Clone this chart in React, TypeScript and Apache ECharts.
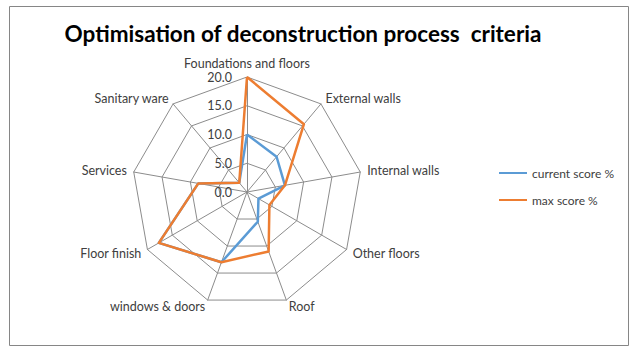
import React, { useEffect, useRef } from "react";
import * as echarts from "echarts";

const categories = [
  "Foundations and floors",
  "External walls",
  "Internal walls",
  "Other floors",
  "Roof",
  "windows & doors",
  "Floor finish",
  "Services",
  "Sanitary ware",
];
const currentScore = [10.0, 8.0, 6.7, 2.3, 5.5, 13.0, 17.7, 8.6, 2.1];
const maxScore = [20.0, 15.4, 6.7, 4.5, 11.0, 13.0, 17.7, 8.6, 2.1];
const seriesNames = ["current score %", "max score %"];
const axisMin = 0;
const axisMax = 20;
const axisSplits = 4;
const titleText = "Optimisation of deconstruction process  criteria";

const FONT = "Lato, 'Open Sans', sans-serif";

export default function App() {
  const ref = useRef<HTMLDivElement>(null);
  useEffect(() => {
    if (!ref.current) return;
    const chart = echarts.init(ref.current, undefined, { renderer: "svg" });
    // ECharts radar runs counter-clockwise; reorder so categories run clockwise
    const order = [0, ...categories.map((_, i) => i).slice(1).reverse()];
    const indicator = order.map((i, k) => ({
      name: categories[i],
      min: axisMin,
      max: axisMax,
      axisLabel: { show: k === 0 },
    }));
    const pick = (arr: number[]) => order.map((i) => arr[i]);
    chart.setOption({
      animation: false,
      backgroundColor: "#ffffff",
      textStyle: { fontFamily: FONT },
      title: {
        text: titleText,
        left: 298,
        top: 17,
        textAlign: "center",
        textStyle: { fontFamily: FONT, fontSize: 22.5, fontWeight: "bold", color: "#000000" },
      },
      graphic: [
        {
          type: "rect",
          shape: { x: 9.5, y: 6.5, width: 619, height: 339 },
          style: { fill: "none", stroke: "#868686", lineWidth: 1 },
          silent: true,
        },
      ],
      legend: {
        orient: "vertical",
        left: 494,
        top: 162,
        itemWidth: 28,
        itemHeight: 2,
        itemGap: 15,
        icon: "rect",
        textStyle: { fontFamily: FONT, fontSize: 12, color: "#404040" },
        data: seriesNames,
      },
      radar: {
        center: [247, 192],
        radius: 115,
        startAngle: 90,
        shape: "polygon",
        splitNumber: axisSplits,
        indicator,
        axisName: { color: "#404040", fontSize: 12.5, fontFamily: FONT },
        nameGap: 7,
        axisLine: { lineStyle: { color: "#8c8c8c", width: 1 } },
        splitLine: { lineStyle: { color: "#8c8c8c", width: 1 } },
        splitArea: { show: false },
        axisTick: { show: false },
        axisLabel: {
          show: false,
          fontSize: 12.5,
          color: "#404040",
          fontFamily: FONT,
          margin: 15,
          formatter: (v: number) => Number(v).toFixed(1),
        },
      },
      series: [
        {
          type: "radar",
          symbol: "none",
          data: [
            {
              name: seriesNames[0],
              value: pick(currentScore),
              lineStyle: { color: "#5B9BD5", width: 2.5 },
              itemStyle: { color: "#5B9BD5" },
            },
            {
              name: seriesNames[1],
              value: pick(maxScore),
              lineStyle: { color: "#ED7D31", width: 2.5 },
              itemStyle: { color: "#ED7D31" },
            },
          ],
        },
      ],
    });
    return () => chart.dispose();
  }, []);
  return (
    <div
      ref={ref}
      style={{ position: "absolute", left: 0, top: 0, width: 641, height: 359 }}
    />
  );
}
